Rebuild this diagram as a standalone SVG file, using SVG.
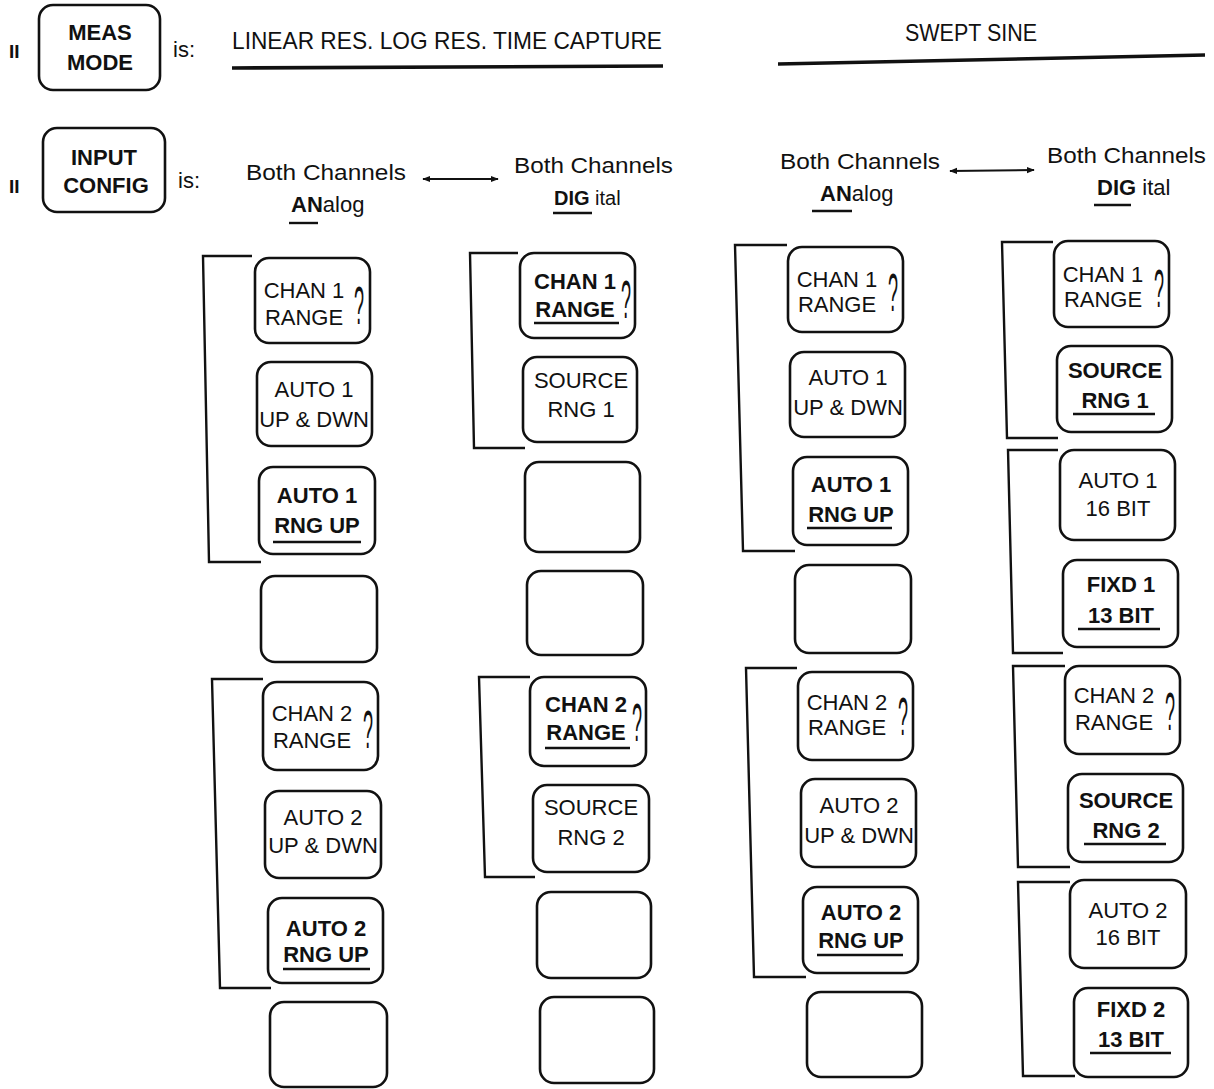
<svg xmlns="http://www.w3.org/2000/svg" width="1214" height="1089" viewBox="0 0 1214 1089">
<defs>
<style>
.key{fill:#fff;stroke:#111;stroke-width:2.6}
.br{fill:none;stroke:#111;stroke-width:2.4}
.hl{fill:none;stroke:#111;stroke-width:3.6}
.ul{stroke:#111;stroke-width:2.4}
.t{font-family:"Liberation Sans",Arial,sans-serif;font-size:22px;fill:#111;text-anchor:middle}
.b{font-weight:bold}
.q{font-family:"Liberation Sans",Arial,sans-serif;font-size:54px;fill:#111}
.h{font-family:"Liberation Sans",Arial,sans-serif;font-size:22px;fill:#111}
.h.big{font-size:24px}
.h.sm{font-size:19px;font-weight:bold}
.h.dg{font-size:20px}
.conn{stroke:#111;stroke-width:2;fill:none}
</style>
<marker id="ah" viewBox="0 0 10 10" refX="9" refY="5" markerWidth="8" markerHeight="8" markerUnits="userSpaceOnUse" orient="auto-start-reverse">
<path d="M0,1 L10,5 L0,9 z" fill="#111"/>
</marker>
</defs>
<rect width="1214" height="1089" fill="#fff"/>

<g id="header">
<text class="h sm" x="9" y="58">II</text>
<g id="meas-mode">
<rect class="key" x="39" y="5" width="121" height="85" rx="14"/>
<text class="t b" x="100" y="40">MEAS</text>
<text class="t b" x="100" y="70">MODE</text>
</g>
<text class="h" x="173" y="57">is:</text>
<text class="h big" x="232" y="49" textLength="430" lengthAdjust="spacingAndGlyphs">LINEAR RES. LOG RES. TIME CAPTURE</text>
<line class="hl" x1="232" y1="68" x2="663" y2="66"/>
<text class="h big" x="905" y="41" textLength="132" lengthAdjust="spacingAndGlyphs">SWEPT SINE</text>
<line class="hl" x1="778" y1="64" x2="1205" y2="55"/>

<text class="h sm" x="9" y="193">II</text>
<g id="input-config">
<rect class="key" x="43" y="128" width="122" height="84" rx="14"/>
<text class="t b" x="104" y="165">INPUT</text>
<text class="t b" x="106" y="193">CONFIG</text>
</g>
<text class="h" x="178" y="188">is:</text>

<text class="h" x="246" y="180" textLength="160" lengthAdjust="spacingAndGlyphs">Both Channels</text>
<text class="h" x="514" y="173" textLength="159" lengthAdjust="spacingAndGlyphs">Both Channels</text>
<text class="h" x="291" y="212"><tspan font-weight="bold">AN</tspan>alog</text>
<line class="ul" x1="289" y1="223" x2="318" y2="223"/>
<text class="h dg" x="554" y="205"><tspan font-weight="bold">DIG</tspan> ital</text>
<line class="ul" x1="553" y1="213" x2="592" y2="213"/>

<text class="h" x="780" y="169" textLength="160" lengthAdjust="spacingAndGlyphs">Both Channels</text>
<text class="h" x="1047" y="163" textLength="159" lengthAdjust="spacingAndGlyphs">Both Channels</text>
<text class="h" x="820" y="201"><tspan font-weight="bold">AN</tspan>alog</text>
<line class="ul" x1="812" y1="211" x2="852" y2="211"/>
<text class="h" x="1097" y="195"><tspan font-weight="bold">DIG</tspan> ital</text>
<line class="ul" x1="1094" y1="205" x2="1131" y2="205"/>
</g>

<g id="connectors">
<line class="conn" x1="423" y1="179" x2="498" y2="179" marker-start="url(#ah)" marker-end="url(#ah)"/>
<line class="conn" x1="950" y1="171" x2="1034" y2="170" marker-start="url(#ah)" marker-end="url(#ah)"/>
</g>

<g id="brackets">
<path class="br" d="M252,256 L203,256 L209,562 L261,562"/>
<path class="br" d="M263,679 L212,679 L220,988 L271,988"/>
<path class="br" d="M518,253 L470,253 L474,448 L525,448"/>
<path class="br" d="M530,677 L479,677 L485,877 L535,877"/>
<path class="br" d="M787,245 L735,245 L743,551 L795,551"/>
<path class="br" d="M797,668 L746,668 L754,977 L806,977"/>
<path class="br" d="M1053,242 L1002,242 L1007,438 L1058,438"/>
<path class="br" d="M1058,450 L1008,450 L1013,653 L1063,653"/>
<path class="br" d="M1065,666 L1013,666 L1018,867 L1070,867"/>
<path class="br" d="M1070,882 L1018,882 L1023,1076 L1075,1076"/>
</g>

<!-- Column 1 -->
<g id="c1k1"><rect class="key" x="255" y="258" width="115" height="85" rx="14"/>
<text class="t" x="304" y="298">CHAN 1</text><text class="t" x="304" y="325">RANGE</text>
<text class="q" x="354" y="324" textLength="10" lengthAdjust="spacingAndGlyphs">?</text></g>
<g id="c1k2"><rect class="key" x="257" y="362" width="115" height="84" rx="14"/>
<text class="t" x="314" y="397">AUTO 1</text><text class="t" x="314" y="427">UP &amp; DWN</text></g>
<g id="c1k3"><rect class="key" x="259" y="467" width="116" height="87" rx="14"/>
<text class="t b" x="317" y="503">AUTO 1</text><text class="t b" x="317" y="533">RNG UP</text>
<line class="ul" x1="273" y1="542" x2="361" y2="542"/></g>
<g id="c1k4"><rect class="key" x="261" y="576" width="116" height="86" rx="14"/></g>
<g id="c1k5"><rect class="key" x="263" y="682" width="115" height="88" rx="14"/>
<text class="t" x="312" y="721">CHAN 2</text><text class="t" x="312" y="748">RANGE</text>
<text class="q" x="363" y="748" textLength="10" lengthAdjust="spacingAndGlyphs">?</text></g>
<g id="c1k6"><rect class="key" x="265" y="791" width="116" height="87" rx="14"/>
<text class="t" x="323" y="825">AUTO 2</text><text class="t" x="323" y="853">UP &amp; DWN</text></g>
<g id="c1k7"><rect class="key" x="268" y="898" width="115" height="85" rx="14"/>
<text class="t b" x="326" y="936">AUTO 2</text><text class="t b" x="326" y="962">RNG UP</text>
<line class="ul" x1="283" y1="969" x2="370" y2="969"/></g>
<g id="c1k8"><rect class="key" x="270" y="1002" width="117" height="85" rx="14"/></g>

<!-- Column 2 -->
<g id="c2k1"><rect class="key" x="520" y="253" width="115" height="85" rx="14"/>
<text class="t b" x="575" y="289">CHAN 1</text><text class="t b" x="575" y="317">RANGE</text>
<line class="ul" x1="534" y1="323" x2="619" y2="323"/>
<text class="q" x="621" y="318" textLength="10" lengthAdjust="spacingAndGlyphs">?</text></g>
<g id="c2k2"><rect class="key" x="523" y="357" width="114" height="85" rx="14"/>
<text class="t" x="581" y="388">SOURCE</text><text class="t" x="581" y="417">RNG 1</text></g>
<g id="c2k3"><rect class="key" x="525" y="462" width="115" height="90" rx="14"/></g>
<g id="c2k4"><rect class="key" x="527" y="571" width="116" height="84" rx="14"/></g>
<g id="c2k5"><rect class="key" x="530" y="677" width="116" height="89" rx="14"/>
<text class="t b" x="586" y="712">CHAN 2</text><text class="t b" x="586" y="740">RANGE</text>
<line class="ul" x1="545" y1="748" x2="630" y2="748"/>
<text class="q" x="632" y="741" textLength="10" lengthAdjust="spacingAndGlyphs">?</text></g>
<g id="c2k6"><rect class="key" x="533" y="785" width="116" height="87" rx="14"/>
<text class="t" x="591" y="815">SOURCE</text><text class="t" x="591" y="845">RNG 2</text></g>
<g id="c2k7"><rect class="key" x="537" y="892" width="114" height="86" rx="14"/></g>
<g id="c2k8"><rect class="key" x="540" y="997" width="114" height="86" rx="14"/></g>

<!-- Column 3 -->
<g id="c3k1"><rect class="key" x="788" y="247" width="115" height="85" rx="14"/>
<text class="t" x="837" y="287">CHAN 1</text><text class="t" x="837" y="312">RANGE</text>
<text class="q" x="888" y="311" textLength="10" lengthAdjust="spacingAndGlyphs">?</text></g>
<g id="c3k2"><rect class="key" x="790" y="352" width="115" height="85" rx="14"/>
<text class="t" x="848" y="385">AUTO 1</text><text class="t" x="848" y="415">UP &amp; DWN</text></g>
<g id="c3k3"><rect class="key" x="793" y="457" width="115" height="88" rx="14"/>
<text class="t b" x="851" y="492">AUTO 1</text><text class="t b" x="851" y="522">RNG UP</text>
<line class="ul" x1="807" y1="528" x2="892" y2="528"/></g>
<g id="c3k4"><rect class="key" x="795" y="565" width="116" height="88" rx="14"/></g>
<g id="c3k5"><rect class="key" x="798" y="672" width="115" height="88" rx="14"/>
<text class="t" x="847" y="710">CHAN 2</text><text class="t" x="847" y="735">RANGE</text>
<text class="q" x="898" y="735" textLength="10" lengthAdjust="spacingAndGlyphs">?</text></g>
<g id="c3k6"><rect class="key" x="801" y="779" width="115" height="88" rx="14"/>
<text class="t" x="859" y="813">AUTO 2</text><text class="t" x="859" y="843">UP &amp; DWN</text></g>
<g id="c3k7"><rect class="key" x="803" y="887" width="115" height="86" rx="14"/>
<text class="t b" x="861" y="920">AUTO 2</text><text class="t b" x="861" y="948">RNG UP</text>
<line class="ul" x1="817" y1="955" x2="903" y2="955"/></g>
<g id="c3k8"><rect class="key" x="807" y="992" width="115" height="85" rx="14"/></g>

<!-- Column 4 -->
<g id="c4k1"><rect class="key" x="1054" y="241" width="115" height="86" rx="14"/>
<text class="t" x="1103" y="282">CHAN 1</text><text class="t" x="1103" y="307">RANGE</text>
<text class="q" x="1154" y="307" textLength="10" lengthAdjust="spacingAndGlyphs">?</text></g>
<g id="c4k2"><rect class="key" x="1057" y="346" width="115" height="86" rx="14"/>
<text class="t b" x="1115" y="378">SOURCE</text><text class="t b" x="1115" y="408">RNG 1</text>
<line class="ul" x1="1073" y1="414" x2="1155" y2="414"/></g>
<g id="c4k3"><rect class="key" x="1060" y="450" width="115" height="90" rx="14"/>
<text class="t" x="1118" y="488">AUTO 1</text><text class="t" x="1118" y="516">16 BIT</text></g>
<g id="c4k4"><rect class="key" x="1063" y="560" width="115" height="87" rx="14"/>
<text class="t b" x="1121" y="592">FIXD 1</text><text class="t b" x="1121" y="623">13 BIT</text>
<line class="ul" x1="1078" y1="629" x2="1160" y2="629"/></g>
<g id="c4k5"><rect class="key" x="1065" y="666" width="115" height="88" rx="14"/>
<text class="t" x="1114" y="703">CHAN 2</text><text class="t" x="1114" y="730">RANGE</text>
<text class="q" x="1165" y="730" textLength="10" lengthAdjust="spacingAndGlyphs">?</text></g>
<g id="c4k6"><rect class="key" x="1068" y="774" width="115" height="88" rx="14"/>
<text class="t b" x="1126" y="808">SOURCE</text><text class="t b" x="1126" y="838">RNG 2</text>
<line class="ul" x1="1084" y1="844" x2="1166" y2="844"/></g>
<g id="c4k7"><rect class="key" x="1070" y="880" width="116" height="88" rx="14"/>
<text class="t" x="1128" y="918">AUTO 2</text><text class="t" x="1128" y="945">16 BIT</text></g>
<g id="c4k8"><rect class="key" x="1074" y="988" width="114" height="89" rx="14"/>
<text class="t b" x="1131" y="1017">FIXD 2</text><text class="t b" x="1131" y="1047">13 BIT</text>
<line class="ul" x1="1090" y1="1053" x2="1171" y2="1053"/></g>
</svg>
